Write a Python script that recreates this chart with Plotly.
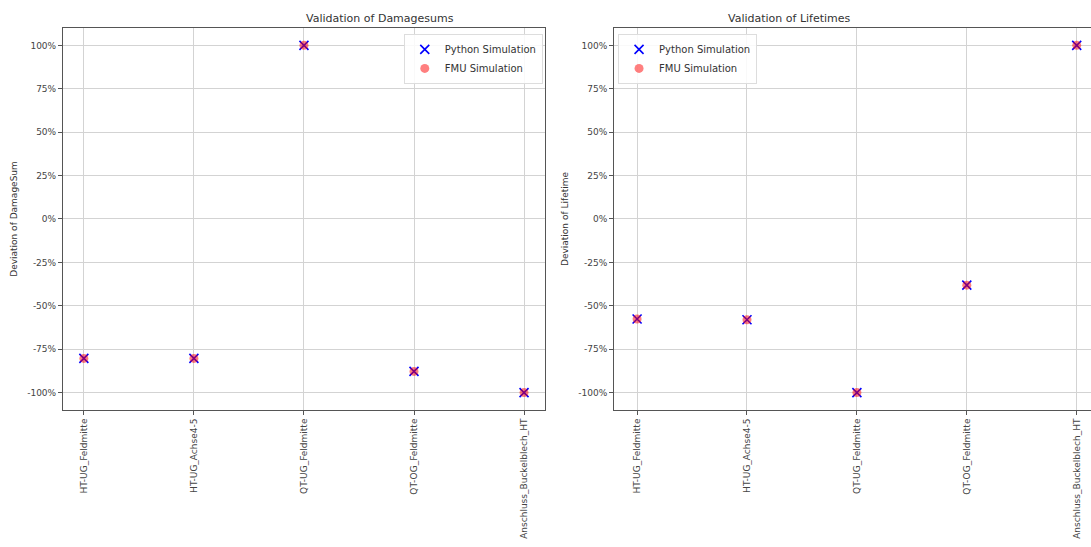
import plotly.graph_objects as go

categories = ["HT-UG_Feldmitte", "HT-UG_Achse4-5", "QT-UG_Feldmitte", "QT-OG_Feldmitte", "Anschluss_Buckelblech_HT"]

# deviation in percent
damagesum_python = [-80.3, -80.3, 100.0, -87.8, -100.0]
damagesum_fmu = [-80.3, -80.3, 100.0, -87.8, -100.0]
lifetime_python = [-57.6, -58.0, -100.0, -38.1, 100.0]
lifetime_fmu = [-57.6, -58.0, -100.0, -38.1, 100.0]

y_ticks = [100, 75, 50, 25, 0, -25, -50, -75, -100]
y_tick_text = [f"{v}%" for v in y_ticks]

FONT = "DejaVu Sans"
TXT = "#333333"
TICK_TXT = "#444444"
GRID = "#d3d3d3"
FRAME = "#555555"

xpos = list(range(len(categories)))

fig = go.Figure()


def add_pair(py, fmu, xa, ya, leg):
    fig.add_trace(go.Scatter(
        x=xpos, y=py, mode="markers", name="Python Simulation",
        xaxis=xa, yaxis=ya, legend=leg,
        marker=dict(symbol="x-thin", size=9, color="blue",
                    line=dict(width=1.6, color="blue")),
    ))
    fig.add_trace(go.Scatter(
        x=xpos, y=fmu, mode="markers", name="FMU Simulation",
        xaxis=xa, yaxis=ya, legend=leg,
        marker=dict(symbol="circle", size=9, color="red", opacity=0.5,
                    line=dict(width=0)),
    ))


add_pair(damagesum_python, damagesum_fmu, "x", "y", "legend")
add_pair(lifetime_python, lifetime_fmu, "x2", "y2", "legend2")

x_common = dict(
    tickmode="array", tickvals=xpos, ticktext=categories, tickangle=-90,
    showgrid=True, gridcolor=GRID, gridwidth=1, zeroline=False,
    ticks="outside", ticklen=4, tickcolor=FRAME,
    tickfont=dict(family=FONT, size=9, color=TICK_TXT),
    showline=True, linecolor=FRAME, linewidth=1, automargin=False,
)
y_common = dict(
    range=[-110, 110], tickmode="array", tickvals=y_ticks, ticktext=y_tick_text,
    showgrid=True, gridcolor=GRID, gridwidth=1, zeroline=False,
    ticks="outside", ticklen=4, tickcolor=FRAME,
    tickfont=dict(family=FONT, size=9, color=TICK_TXT),
    showline=True, linecolor=FRAME, linewidth=1, automargin=False,
)

legend_common = dict(
    bgcolor="rgba(255,255,255,0.85)", bordercolor="#dddddd", borderwidth=1,
    font=dict(family=FONT, size=10, color=TXT),
    yanchor="top", itemsizing="trace", tracegroupgap=0, itemwidth=30,
)

title_y = 1 - 18 / 547

fig.update_layout(
    width=1091, height=547,
    margin=dict(l=0, r=0, t=0, b=0, autoexpand=False),
    paper_bgcolor="white", plot_bgcolor="white",
    font=dict(family=FONT, color=TXT),
    xaxis=dict(domain=[0.0577, 0.4995], range=[-0.19, 4.19], anchor="y",
               mirror=True, **x_common),
    yaxis=dict(domain=[0.2505, 0.9488], anchor="x", mirror=True,
               title=dict(text="Deviation of DamageSum", font=dict(family=FONT, size=9, color=TXT), standoff=8),
               **y_common),
    xaxis2=dict(domain=[0.5628, 1.0], range=[-0.21, 4.13], anchor="y2",
                mirror=True, **x_common),
    yaxis2=dict(domain=[0.2505, 0.9488], anchor="x2", mirror=False,
                title=dict(text="Deviation of Lifetime", font=dict(family=FONT, size=9, color=TXT), standoff=8),
                **y_common),
    legend=dict(x=0.4975, y=0.938, xanchor="right", **legend_common),
    legend2=dict(x=0.5665, y=0.938, xanchor="left", **legend_common),
    annotations=[
        dict(text="Validation of Damagesums", x=0.2786, y=title_y, xref="paper", yref="paper",
             yanchor="middle", showarrow=False, font=dict(family=FONT, size=11, color=TXT)),
        dict(text="Validation of Lifetimes", x=0.7814, y=title_y, xref="paper", yref="paper",
             yanchor="middle", showarrow=False, font=dict(family=FONT, size=11, color=TXT)),
    ],
)

fig.write_html("out.html")
